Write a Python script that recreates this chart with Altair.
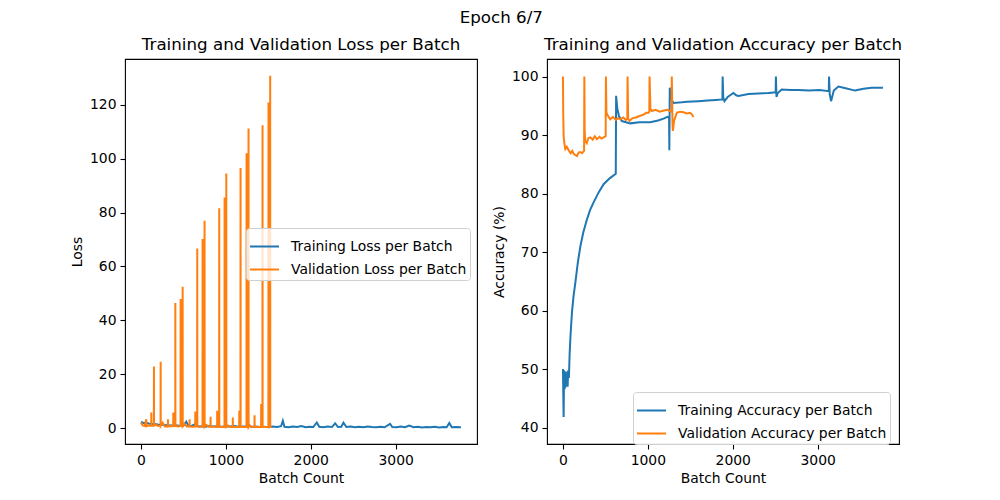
import altair as alt
import pandas as pd

BLUE = "#1f77b4"
ORANGE = "#ff7f0e"
FONT = "DejaVu Sans"

# ---- loss per batch ----
train_loss_x = [0, 30, 60, 100, 150, 200, 250, 300, 350, 400, 450, 500, 534, 560, 600, 640,
                680, 720, 760, 800, 850, 900, 950, 1000, 1050, 1100, 1150, 1200, 1250, 1270,
                1300, 1350, 1400, 1450, 1500, 1550, 1600, 1650, 1671, 1690, 1740, 1790, 1840,
                1890, 1940, 1990, 2030, 2071, 2100, 2150, 2200, 2250, 2287, 2320, 2360, 2385,
                2420, 2470, 2520, 2570, 2620, 2670, 2720, 2770, 2820, 2870, 2934, 2960, 3010,
                3060, 3110, 3160, 3210, 3260, 3310, 3360, 3410, 3460, 3510, 3560, 3600, 3632,
                3660, 3710, 3769]
train_loss_y = [2.3, 1.9, 2.0, 1.6, 1.5, 1.3, 1.2, 1.1, 1.0, 1.1, 0.9, 0.9, 2.4, 0.8, 0.9, 1.5,
                0.6, 0.7, 0.5, 0.8, 0.6, 0.7, 0.5, 0.7, 0.6, 0.8, 0.5, 0.6, 0.7, 1.2,
                0.4, 0.6, 0.4, 0.5, 0.3, 0.6, 0.4, 0.7, 2.7, 0.5, 0.3, 0.6, 0.4,
                0.8, 0.3, 0.5, 0.4, 2.1, 0.5, 0.3, 0.6, 0.4, 1.8, 0.4, 0.5, 2.0,
                0.4, 0.6, 0.3, 0.5, 0.3, 0.6, 0.4, 0.3, 0.5, 0.3, 1.6, 0.4, 0.3,
                0.6, 0.3, 0.9, 0.3, 0.5, 0.2, 0.4, 0.3, 0.5, 0.2, 0.4, 0.3, 1.9,
                0.3, 0.4, 0.3]

val_loss_x = [0, 20, 45, 62, 66, 90, 121, 122, 123, 152, 153, 154, 180, 200, 231, 232, 233,
              256, 280, 317, 318, 319, 350, 380, 381, 382, 404, 405, 406, 440, 466, 467, 468,
              490, 491, 492, 512, 540, 572, 573, 574, 610, 639, 640, 641, 662, 663, 664, 700,
              725, 726, 727, 748, 749, 750, 768, 800, 819, 820, 821, 860, 897, 898, 899, 921,
              922, 923, 950, 984, 985, 986, 1004, 1005, 1006, 1024, 1050, 1081, 1082, 1083,
              1120, 1157, 1158, 1159, 1172, 1173, 1174, 1210, 1243, 1244, 1245, 1266, 1267,
              1268, 1280, 1310, 1337, 1338, 1339, 1380, 1415, 1416, 1417, 1431, 1432, 1433,
              1470, 1501, 1502, 1503, 1521, 1522, 1523, 1538]
val_loss_y = [2.1, 1.0, 0.8, 3.3, 0.7, 1.0, 0.9, 5.8, 0.8, 0.9, 22.9, 0.9, 1.2, 0.8, 0.9, 24.6, 0.8,
              2.0, 0.6, 0.7, 3.3, 0.6, 0.8, 0.7, 5.8, 0.7, 0.8, 46.4, 0.8, 0.6, 0.8, 47.9, 0.8,
              0.8, 52.5, 0.7, 1.5, 0.6, 0.6, 3.3, 0.6, 0.5, 0.6, 6.2, 0.6, 0.6, 66.7, 0.6, 0.5,
              0.6, 70.2, 0.6, 0.6, 77.0, 0.5, 1.2, 0.5, 0.6, 4.2, 0.5, 0.5, 0.5, 6.4, 0.5, 0.5,
              81.6, 0.5, 0.4, 0.5, 85.6, 0.5, 0.5, 94.5, 0.5, 1.0, 0.4, 0.5, 3.9, 0.4,
              0.4, 0.5, 6.4, 0.4, 0.4, 96.5, 0.4, 0.4, 0.4, 102.0, 0.4, 0.4, 111.2,
              0.4, 1.0, 0.4, 0.4, 4.8, 0.4, 0.4, 0.4, 8.9, 0.4, 0.4, 112.4, 0.4,
              0.4, 0.4, 120.9, 0.4, 0.4, 130.8, 0.4, 0.5]

# ---- accuracy per batch ----
train_acc_x = [0, 4, 8, 13, 18, 23, 29, 35, 41, 48, 55, 62, 70, 79, 90, 106, 125, 146, 175, 205,
               240, 283, 320, 361, 420, 479, 550, 622, 626, 640, 660, 694, 793, 900, 1028, 1120,
               1185, 1232, 1250, 1253, 1258, 1270, 1302, 1400, 1459, 1595, 1700, 1800, 1878, 1881,
               1888, 1902, 1940, 2008, 2040, 2067, 2185, 2300, 2420, 2505, 2508, 2515, 2530, 2576,
               2680, 2773, 2900, 3020, 3131, 3134, 3142, 3158, 3190, 3244, 3330, 3440, 3540, 3635,
               3769]
train_acc_y = [50.0, 45.5, 41.8, 49.8, 46.5, 49.2, 46.8, 49.6, 47.2, 49.5, 47.0, 49.8, 48.5, 52.8,
               56.0, 59.7, 62.5, 64.8, 68.2, 71.0, 73.4, 75.6, 77.2, 78.5, 80.2, 81.6, 82.6, 83.4,
               96.7, 94.5, 93.2, 92.4, 92.0, 92.2, 92.2, 92.5, 92.8, 93.1, 93.0, 87.4, 98.1, 96.2,
               95.5, 95.6, 95.7, 95.8, 95.9, 96.0, 96.1, 100.0, 96.4, 95.8, 96.5, 97.2, 96.8, 96.7,
               97.0, 97.1, 97.2, 97.3, 100.0, 96.5, 97.2, 97.8, 97.7, 97.7, 97.6, 97.7, 97.5, 100.0,
               97.0, 95.8, 97.6, 98.3, 98.0, 97.6, 97.9, 98.1, 98.1]

val_acc_x = [0, 3, 8, 20, 28, 45, 67, 90, 110, 126, 145, 165, 185, 204, 225, 249, 252, 256, 263,
             280, 300, 322, 350, 375, 400, 430, 455, 479, 503, 506, 512, 530, 557, 590, 620, 650,
             675, 710, 740, 758, 761, 768, 784, 820, 860, 910, 950, 980, 1008, 1017, 1020, 1030,
             1047, 1090, 1140, 1185, 1230, 1263, 1279, 1282, 1290, 1294, 1310, 1341, 1380, 1420,
             1460, 1498, 1520, 1538]
val_acc_y = [100.0, 93.8, 89.8, 88.2, 87.6, 88.0, 87.4, 86.9, 87.3, 86.8, 86.6, 86.4, 87.0, 87.1,
             86.9, 87.3, 100.0, 90.5, 89.0, 88.6, 89.5, 89.6, 89.2, 89.8, 89.3, 89.7, 89.4, 89.6,
             89.8, 100.0, 93.8, 93.3, 92.7, 93.1, 92.6, 92.9, 92.7, 93.0, 92.6, 92.8, 100.0, 92.8,
             92.4, 92.9, 93.0, 93.3, 93.5, 93.8, 93.8, 94.0, 100.0, 94.5, 94.1, 94.3, 94.0, 94.2,
             94.3, 94.1, 94.0, 100.0, 92.0, 90.7, 92.5, 93.8, 94.0, 93.9, 93.7, 93.8, 93.5, 93.1]

loss_names = ["Training Loss per Batch", "Validation Loss per Batch"]
acc_names = ["Training Accuracy per Batch", "Validation Accuracy per Batch"]

loss_df = pd.concat([
    pd.DataFrame({"batch": train_loss_x, "value": train_loss_y, "series": loss_names[0]}),
    pd.DataFrame({"batch": val_loss_x, "value": val_loss_y, "series": loss_names[1]}),
])
acc_df = pd.concat([
    pd.DataFrame({"batch": train_acc_x, "value": train_acc_y, "series": acc_names[0]}),
    pd.DataFrame({"batch": val_acc_x, "value": val_acc_y, "series": acc_names[1]}),
])


def panel(df, names, y_domain, y_ticks, y_title, title, lx, ly):
    color = alt.Color(
        "series:N",
        scale=alt.Scale(domain=names, range=[BLUE, ORANGE]),
        legend=alt.Legend(
            title=None, orient="none", legendX=lx, legendY=ly,
            symbolType="stroke", symbolSize=841, symbolStrokeWidth=2,
            labelFontSize=13.9, labelFont=FONT, labelColor="black", labelLimit=400,
            labelOffset=11, rowPadding=-15, padding=3,
            fillColor="rgba(255,255,255,0.8)", strokeColor="#d0d0d0", cornerRadius=3,
        ),
    )
    base = alt.Chart(df).mark_line(strokeWidth=2).encode(
        x=alt.X("batch:Q", title="Batch Count",
                scale=alt.Scale(domain=[-188, 3958], nice=False, zero=False),
                axis=alt.Axis(values=[0, 1000, 2000, 3000], format="d")),
        y=alt.Y("value:Q", title=y_title,
                scale=alt.Scale(domain=y_domain, nice=False, zero=False),
                axis=alt.Axis(values=y_ticks, format="d")),
        color=color,
    )
    train = base.transform_filter(alt.datum.series == names[0])
    val = base.transform_filter(alt.datum.series == names[1])
    return alt.layer(train, val).properties(
        width=352, height=385,
        title=alt.TitleParams(title, fontSize=16.7, fontWeight="normal", font=FONT, offset=5),
    )


loss_chart = panel(loss_df, loss_names, [-5.9, 137], [0, 20, 40, 60, 80, 100, 120],
                   "Loss", "Training and Validation Loss per Batch", 121, 169)
acc_chart = panel(acc_df, acc_names, [37.2, 103], [40, 50, 60, 70, 80, 90, 100],
                  "Accuracy (%)", "Training and Validation Accuracy per Batch", 86, 333)

chart = alt.hconcat(loss_chart, acc_chart, spacing=13).resolve_scale(
    color="independent"
).properties(
    title=alt.TitleParams("Epoch 6/7", anchor="middle", fontSize=16.7, fontWeight="normal",
                          font=FONT, offset=10, dx=15),
    padding={"left": 61, "top": 2, "right": 0, "bottom": 0},
).configure_view(
    stroke="black", strokeWidth=1.1
).configure_axis(
    domain=False, grid=False, tickColor="black", tickSize=5, tickWidth=1.1,
    labelFont=FONT, labelFontSize=13.9, labelColor="black", labelPadding=4,
    titleFont=FONT, titleFontSize=13.9, titleFontWeight="normal", titleColor="black",
    titlePadding=5,
).configure_title(
    color="black"
)

chart.save("out.html", embed_options={"renderer": "svg", "actions": False})
